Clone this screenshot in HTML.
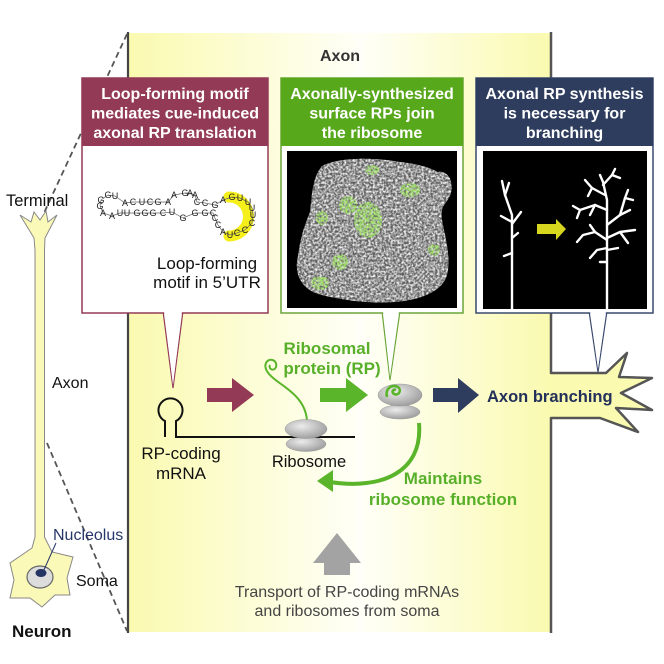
<!DOCTYPE html>
<html><head><meta charset="utf-8"><style>
html,body{margin:0;padding:0;background:#fff;}
svg{display:block;}
text{font-family:"Liberation Sans",Arial,sans-serif;}
</style></head><body>
<svg width="664" height="664" viewBox="0 0 664 664" xmlns="http://www.w3.org/2000/svg">
<defs>
<linearGradient id="bg" gradientUnits="userSpaceOnUse" x1="128" y1="0" x2="551" y2="0">
<stop offset="0" stop-color="#fafab0"/>
<stop offset="0.55" stop-color="#fffff8"/>
<stop offset="1" stop-color="#fafab0"/>
</linearGradient>
<radialGradient id="rib" cx="0.4" cy="0.35" r="0.7">
<stop offset="0" stop-color="#ececec"/>
<stop offset="1" stop-color="#9a9a9a"/>
</radialGradient>
<filter id="tex" x="0" y="0" width="1" height="1">
<feTurbulence type="fractalNoise" baseFrequency="0.45" numOctaves="2" seed="7" result="n"/>
<feColorMatrix in="n" type="matrix" values="0 0 0 0 0.92  0 0 0 0 0.92  0 0 0 0 0.92  0 0 0 2.2 -0.7" result="c"/>
<feComposite in="c" in2="SourceGraphic" operator="in"/>
</filter>
<filter id="gtex" x="0" y="0" width="1" height="1">
<feTurbulence type="fractalNoise" baseFrequency="0.5" numOctaves="2" seed="3" result="n"/>
<feColorMatrix in="n" type="matrix" values="0 0 0 0 0.35  0 0 0 0 0.8  0 0 0 0 0.12  0 0 0 2.6 -0.8" result="c"/>
<feComposite in="c" in2="SourceGraphic" operator="in"/>
</filter>
</defs>

<!-- Axon region -->
<path d="M128,33 L551,33 L551,373 L606,373 L627,353 L619,377 L652,378 L621,393 L652,410 L616,408 L638,432 L600,418 L551,418 L551,632 L128,632 Z" fill="url(#bg)"/>
<line x1="128" y1="32" x2="128" y2="633" stroke="#444" stroke-width="2.2"/>
<path d="M551,32 L551,373 L606,373 L627,353 L619,377 L652,378 L621,393 L652,410 L616,408 L638,432 L600,418 L551,418 L551,633" fill="none" stroke="#555" stroke-width="2.5" stroke-linejoin="round"/>
<text x="340" y="61" font-size="16" font-weight="bold" fill="#333" text-anchor="middle">Axon</text>

<!-- dashed zoom lines -->
<line x1="127" y1="34" x2="44" y2="213" stroke="#555" stroke-width="1.8" stroke-dasharray="6,4"/>
<line x1="47" y1="443" x2="127" y2="631" stroke="#555" stroke-width="1.8" stroke-dasharray="6,4"/>

<!-- Left neuron -->
<rect x="35" y="240" width="9.5" height="305" fill="#fbf9b8" stroke="#888" stroke-width="1"/>
<polygon points="35,250 34,238 20,215 31,222 34,212 40,220 46,211 48,222 57,215 45,238 44.5,250" fill="#fbf9b8" stroke="#888" stroke-width="1"/>
<rect x="35.5" y="236" width="8.5" height="20" fill="#fbf9b8"/>
<polygon points="35,537 32,548 10,563 14,580 10,598 30,598 42,607 55,595 70,595 67,578 73,557 52,552 44.5,537" fill="#fbf9b8" stroke="#888" stroke-width="1"/>
<rect x="35.5" y="530" width="8.5" height="14" fill="#fbf9b8"/>
<ellipse cx="40" cy="577" rx="13" ry="11" fill="#dcdcdc" stroke="#666" stroke-width="1.2"/>
<ellipse cx="41" cy="573" rx="5.5" ry="4" fill="#243563"/>
<line x1="43" y1="572" x2="56" y2="543" stroke="#243563" stroke-width="1"/>
<text x="6" y="206" font-size="16.5" fill="#111">Terminal</text>
<text x="52" y="388" font-size="16" fill="#111">Axon</text>
<text x="53" y="540" font-size="16" fill="#27366a">Nucleolus</text>
<text x="76" y="586" font-size="16" fill="#111">Soma</text>
<text x="12" y="637" font-size="17" font-weight="bold" fill="#111">Neuron</text>

<!-- Box 1 -->
<polygon points="163,311 183,311 173,388" fill="#fff" stroke="#933a57" stroke-width="1.2"/>
<rect x="82" y="78" width="186" height="235" fill="#fff" stroke="#933a57" stroke-width="1.5"/>
<polygon points="164,311 182,311 173,385" fill="#fff"/>
<rect x="82" y="78" width="186" height="68" fill="#933a57"/>
<g font-size="16" font-weight="bold" fill="#fff" text-anchor="middle">
<text x="175" y="99">Loop-forming motif</text>
<text x="175" y="118.5">mediates cue-induced</text>
<text x="175" y="138">axonal RP translation</text>
</g>
<!-- RNA -->
<path d="M229,197 A19.5,19.5 0 0 1 229,236" fill="none" stroke="#f5ef1c" stroke-width="11" stroke-linecap="round"/>
<polyline points="115,196 108,195 101,200 100,206 103,213 112,216 120,213 127,213 137,213 145,213 153,213 163,213 172,212 183,218 195,213 205,213 213,213 215,218 218,225 223,232 230,235 237,233 245,230 252,223 253,215 252,208 248,202 240,198 232,197 223,200 215,205 205,203 197,202 195,195 190,193 185,193 174,195 168,202 158,202 150,202 142,202 133,202 125,203 115,196" fill="none" stroke="#666" stroke-width="0.7"/>
<g font-size="9" fill="#222" text-anchor="middle" dominant-baseline="central">
<text x="101" y="200">G</text><text x="108" y="195">G</text><text x="115" y="196">U</text>
<text x="100" y="206">G</text><text x="103" y="213">A</text><text x="112" y="216">A</text><text x="120" y="213">U</text>
<text x="125" y="203">A</text><text x="133" y="202">C</text><text x="142" y="202">U</text><text x="150" y="202">C</text><text x="158" y="202">G</text><text x="168" y="202">A</text><text x="174" y="195">A</text>
<text x="127" y="213">U</text><text x="137" y="213">G</text><text x="145" y="213">G</text><text x="153" y="213">G</text><text x="163" y="213">C</text><text x="172" y="212">U</text>
<text x="183" y="218">G</text><text x="195" y="213">G</text><text x="205" y="213">G</text><text x="213" y="213">C</text>
<text x="185" y="193">G</text><text x="190" y="193">A</text><text x="195" y="195">A</text>
<text x="197" y="202">C</text><text x="205" y="203">C</text><text x="215" y="205">G</text><text x="223" y="200">A</text>
<text x="232" y="197">G</text><text x="240" y="198">U</text><text x="248" y="202">U</text><text x="252" y="208">U</text><text x="253" y="215">U</text>
<text x="252" y="223">C</text><text x="245" y="230">C</text><text x="237" y="233">C</text><text x="230" y="235">U</text>
<text x="223" y="232">A</text><text x="218" y="225">C</text><text x="215" y="218">C</text>
</g>
<g font-size="17" fill="#111" text-anchor="middle">
<text x="207" y="269">Loop-forming</text>
<text x="207" y="288">motif in 5’UTR</text>
</g>

<!-- Box 2 -->
<polygon points="382,311 400,311 390,380" fill="#fff" stroke="#6aa53a" stroke-width="1.2"/>
<rect x="281" y="78" width="182" height="235" fill="#fff" stroke="#6aa53a" stroke-width="1.5"/>
<polygon points="383,311 399,311 390,377" fill="#fff"/>
<rect x="281" y="78" width="182" height="68" fill="#58a81c"/>
<g font-size="16" font-weight="bold" fill="#fff" text-anchor="middle">
<text x="372" y="99">Axonally-synthesized</text>
<text x="372" y="118.5">surface RPs join</text>
<text x="372" y="138">the ribosome</text>
</g>
<rect x="287" y="151" width="170" height="157" fill="#000"/>
<path d="M322,166 C340,156 380,158 400,162 C420,164 430,168 438,172 C448,170 455,182 450,196 C446,204 440,206 442,220 C446,240 452,262 446,278 C440,292 420,300 395,302 C370,304 340,300 318,294 C300,288 294,272 298,256 C300,240 304,226 310,212 C312,196 312,178 322,166 Z" fill="#5e5e5e"/>
<path d="M322,166 C340,156 380,158 400,162 C420,164 430,168 438,172 C448,170 455,182 450,196 C446,204 440,206 442,220 C446,240 452,262 446,278 C440,292 420,300 395,302 C370,304 340,300 318,294 C300,288 294,272 298,256 C300,240 304,226 310,212 C312,196 312,178 322,166 Z" fill="#fff" filter="url(#tex)"/>
<g fill="#fff" filter="url(#gtex)">
<ellipse cx="368" cy="220" rx="14" ry="18"/>
<ellipse cx="348" cy="205" rx="9" ry="9"/>
<ellipse cx="410" cy="190" rx="10" ry="7"/>
<ellipse cx="340" cy="262" rx="8" ry="8"/>
<ellipse cx="320" cy="283" rx="9" ry="7"/>
<ellipse cx="372" cy="170" rx="7" ry="5"/>
<ellipse cx="322" cy="218" rx="6" ry="7"/>
<ellipse cx="434" cy="250" rx="6" ry="6"/>
</g>

<!-- Box 3 -->
<polygon points="589,311 607,311 598,372" fill="#fff" stroke="#3a4a6e" stroke-width="1.2"/>
<rect x="476" y="78" width="177" height="235" fill="#fff" stroke="#3a4a6e" stroke-width="1.5"/>
<polygon points="590,311 606,311 598,369" fill="#fff"/>
<rect x="476" y="78" width="177" height="68" fill="#2e3d5e"/>
<g font-size="16" font-weight="bold" fill="#fff" text-anchor="middle">
<text x="564.5" y="99">Axonal RP synthesis</text>
<text x="564.5" y="118.5">is necessary for</text>
<text x="564.5" y="138">branching</text>
</g>
<rect x="483" y="151" width="164" height="158" fill="#000"/>
<g stroke="#fff" stroke-width="2.4" fill="none" stroke-linecap="round" stroke-linejoin="round">
<path d="M512,309 L512,215 L505,195 L502,181"/>
<path d="M505,195 L509,183"/>
<path d="M512,224 L521,212"/>
<path d="M512,222 L501,216"/>
<path d="M512,238 L518,233"/>
<path d="M512,253 L504,256"/>
<path d="M607,309 L607,200 L603,182 L600,175"/>
<path d="M603,185 L612,175 L620,178"/>
<path d="M612,175 L615,169"/>
<path d="M605,195 L592,188 L585,180"/>
<path d="M592,188 L588,196"/>
<path d="M607,210 L595,205 L580,210 L573,206"/>
<path d="M580,210 L577,218"/>
<path d="M595,205 L590,215"/>
<path d="M607,225 L620,215 L630,210"/>
<path d="M620,215 L625,198 L628,190"/>
<path d="M625,198 L633,200"/>
<path d="M607,240 L595,232 L583,235 L577,242"/>
<path d="M595,232 L590,225"/>
<path d="M607,238 L620,232 L635,230"/>
<path d="M620,232 L628,243"/>
<path d="M607,248 L597,250 L590,258"/>
<path d="M607,250 L618,248"/>
<path d="M607,262 L600,262"/>
</g>
<polygon points="537,224 556,224 556,219 566,229 556,240 556,234 537,234" fill="#d6d61e"/>

<!-- mRNA hairpin -->
<path d="M165,437 L165,421 A12,12 0 1 1 176,421 L176,437 L355,437" fill="none" stroke="#111" stroke-width="2"/>
<g font-size="17" fill="#111" text-anchor="middle">
<text x="181" y="459">RP-coding</text>
<text x="181" y="479">mRNA</text>
</g>

<!-- maroon arrow -->
<polygon points="207,388 232,388 232,378 254,395 232,412 232,402 207,402" fill="#933a57"/>

<!-- Ribosome 1 -->
<path d="M307,421 C306,402 292,392 281,384 C271,377 263,370 266,363 C269,357 278,360 276,367 C274,372 268,369 270,365" fill="none" stroke="#5ab52a" stroke-width="2"/>
<ellipse cx="306" cy="444" rx="20" ry="7.5" fill="url(#rib)" stroke="#999" stroke-width="0.5"/>
<line x1="280" y1="437" x2="330" y2="437" stroke="#111" stroke-width="2"/>
<ellipse cx="306" cy="429" rx="21" ry="9.5" fill="url(#rib)" stroke="#999" stroke-width="0.5"/>
<text x="309" y="467" font-size="16.5" fill="#111" text-anchor="middle">Ribosome</text>
<g font-size="17" font-weight="bold" fill="#58b02a" text-anchor="middle">
<text x="327" y="354">Ribosomal</text>
<text x="332" y="374">protein (RP)</text>
</g>

<!-- green arrow -->
<polygon points="320,388 346,388 346,378 368,395 346,412 346,402 320,402" fill="#5ab52a"/>

<!-- Ribosome 2 -->
<ellipse cx="400" cy="412" rx="20" ry="7" fill="url(#rib)" stroke="#999" stroke-width="0.5"/>
<ellipse cx="400" cy="395" rx="22" ry="11" fill="url(#rib)" stroke="#999" stroke-width="0.5"/>
<path d="M387,397 C385,388 392,384 398,387 C402,390 399,396 394,394 C391,392 393,389 396,390" fill="none" stroke="#5ab52a" stroke-width="2.6"/>

<!-- navy arrow -->
<polygon points="433,388 458,388 458,378 479,395 458,413 458,402 433,402" fill="#2e3d5e"/>
<text x="487" y="402" font-size="16.5" font-weight="bold" fill="#22305a">Axon branching</text>

<!-- curved green arrow -->
<path d="M419,423 C423,472 382,490 330,482" fill="none" stroke="#5ab52a" stroke-width="4"/>
<polygon points="317,481 333,470 333,492" fill="#5ab52a"/>
<g font-size="17" font-weight="bold" fill="#58b02a" text-anchor="middle">
<text x="443" y="484">Maintains</text>
<text x="443" y="505">ribosome function</text>
</g>

<!-- gray up arrow -->
<polygon points="313,563 337,533 361,563 350,563 350,575 324,575 324,563" fill="#a3a3a3"/>
<g font-size="16" fill="#444" text-anchor="middle">
<text x="347" y="597">Transport of RP-coding mRNAs</text>
<text x="347" y="616">and ribosomes from soma</text>
</g>
</svg>
</body></html>
